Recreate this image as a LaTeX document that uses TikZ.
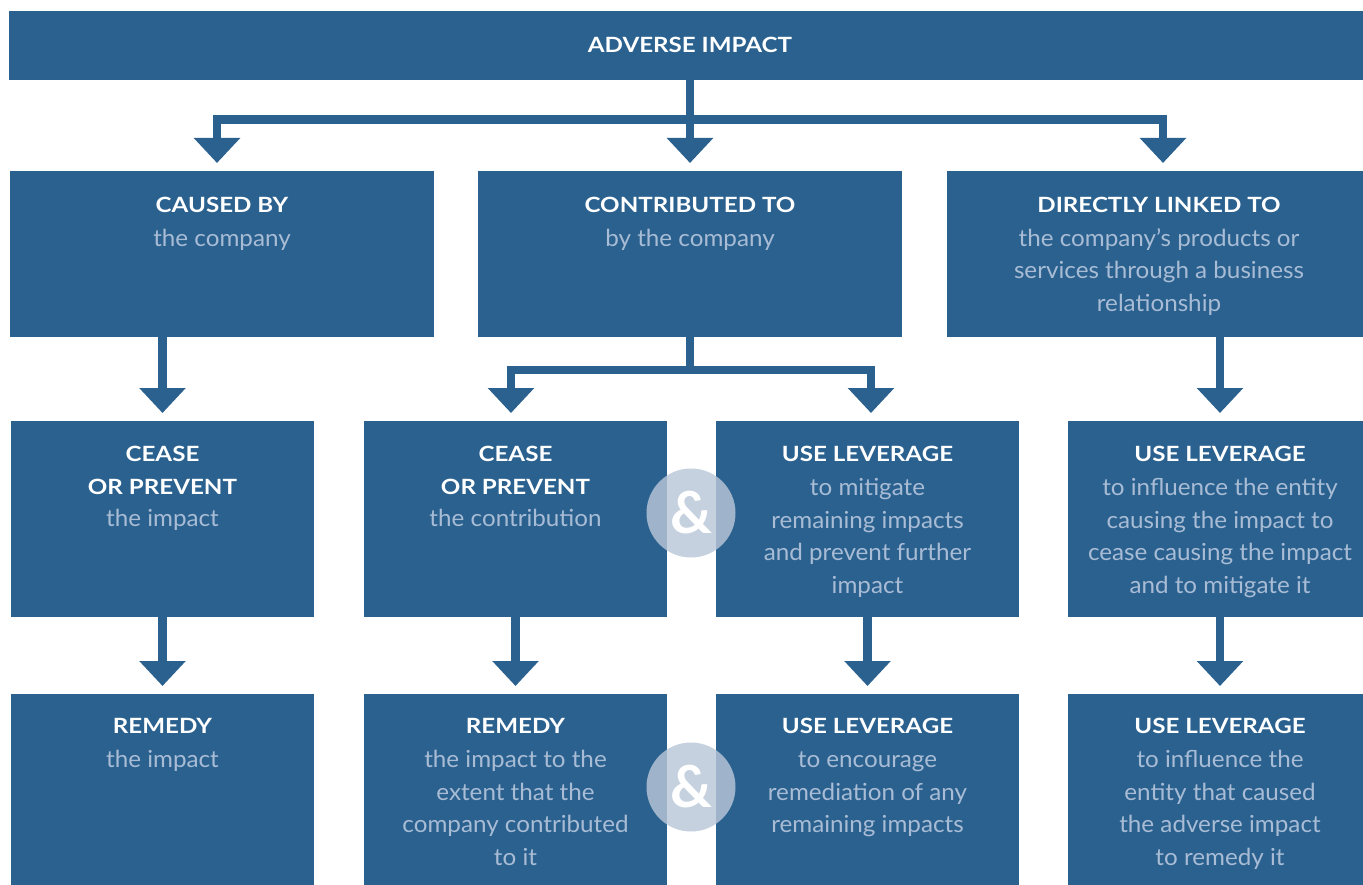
\documentclass[tikz,border=0pt]{standalone}
\usepackage{fontspec}
\setmainfont{Lato}
\newfontfamily\hdfont[FakeStretch=1.15]{Lato}
\newfontfamily\bodyfont[FakeStretch=1.03]{Lato}
\usetikzlibrary{arrows.meta}
\definecolor{boxblue}{RGB}{43,97,143}
\definecolor{subtxt}{RGB}{168,188,213}
\definecolor{ampc}{RGB}{185,199,217}
\newcommand\myhd[1]{{\color{white}\hdfont\bfseries\fontsize{21}{32.5}\selectfont #1}}
\newcommand\mystrut{\rule{0pt}{22pt}}
\begin{document}
\begin{tikzpicture}[x=1pt,y=-1pt,
  panel/.style={fill=boxblue, draw=none, inner sep=0pt, outer sep=0pt, anchor=north west},
  txt/.style={anchor=north, inner sep=0pt, align=center, text=subtxt, font=\bodyfont\fontsize{23.5}{32.5}\selectfont},
  conn/.style={draw=boxblue, line width=8.5pt, line join=miter},
  tip/.style={-{Triangle[width=45pt,length=25pt]}, shorten >=8pt},
  tips/.style={{Triangle[width=45pt,length=25pt]}-{Triangle[width=45pt,length=25pt]}, shorten >=8pt, shorten <=8pt},
  amp/.style={circle, fill=ampc, fill opacity=0.82, text opacity=1, minimum size=89pt, inner sep=0pt, text=white, font=\fontsize{58}{58}\selectfont\bfseries}
]
\useasboundingbox (0,0) rectangle (1363,885);
\clip (0,0) rectangle (1363,885);
\fill[white] (0,0) rectangle (1363,885);

% boxes
\node[panel, minimum width=1362pt, minimum height=69pt] (top) at (9,11) {};
\node[panel, minimum width=424pt, minimum height=166pt] (A) at (10,171) {};
\node[panel, minimum width=424pt, minimum height=166pt] (B) at (478,171) {};
\node[panel, minimum width=424pt, minimum height=166pt] (C) at (947,171) {};

\node[panel, minimum width=303pt, minimum height=196pt] (r3a) at (11,421) {};
\node[panel, minimum width=303pt, minimum height=196pt] (r3b) at (364,421) {};
\node[panel, minimum width=303pt, minimum height=196pt] (r3c) at (716,421) {};
\node[panel, minimum width=304pt, minimum height=196pt] (r3d) at (1068,421) {};

\node[panel, minimum width=303pt, minimum height=200pt] (r4a) at (11,694) {};
\node[panel, minimum width=303pt, minimum height=200pt] (r4b) at (364,694) {};
\node[panel, minimum width=303pt, minimum height=200pt] (r4c) at (716,694) {};
\node[panel, minimum width=304pt, minimum height=200pt] (r4d) at (1068,694) {};

% texts
\node[anchor=base, inner sep=0pt] (ttop) at (690,53) {\myhd{ADVERSE IMPACT}};

\node[txt] (tA) at ([yshift=-19pt]A.north) {\mystrut\myhd{CAUSED BY}\\[1.5pt]the company};
\node[txt] (tB) at ([yshift=-19pt]B.north) {\mystrut\myhd{CONTRIBUTED TO}\\[1.5pt]by the company};
\node[txt] (tC) at ([yshift=-19pt]C.north) {\mystrut\myhd{DIRECTLY LINKED TO}\\[1.5pt]the company’s products or\\services through a business\\relationship};

\node[txt] (t3a) at ([yshift=-18.5pt]r3a.north) {\mystrut\myhd{CEASE}\\\myhd{OR PREVENT}\\the impact};
\node[txt] (t3b) at ([yshift=-18.5pt]r3b.north) {\mystrut\myhd{CEASE}\\\myhd{OR PREVENT}\\the contribution};
\node[txt] (t3c) at ([yshift=-18.5pt]r3c.north) {\mystrut\myhd{USE LEVERAGE}\\[1.5pt]to mitigate\\remaining impacts\\and prevent further\\impact};
\node[txt] (t3d) at ([yshift=-18.5pt]r3d.north) {\mystrut\myhd{USE LEVERAGE}\\[1.5pt]to influence the entity\\causing the impact to\\cease causing the impact\\and to mitigate it};

\node[txt] (t4a) at ([yshift=-17.5pt]r4a.north) {\mystrut\myhd{REMEDY}\\[1.5pt]the impact};
\node[txt] (t4b) at ([yshift=-17.5pt]r4b.north) {\mystrut\myhd{REMEDY}\\[1.5pt]the impact to the\\extent that the\\company contributed\\to it};
\node[txt] (t4c) at ([yshift=-17.5pt]r4c.north) {\mystrut\myhd{USE LEVERAGE}\\[1.5pt]to encourage\\remediation of any\\remaining impacts};
\node[txt] (t4d) at ([yshift=-17.5pt]r4d.north) {\mystrut\myhd{USE LEVERAGE}\\[1.5pt]to influence the\\entity that caused\\the adverse impact\\to remedy it};

% connectors: top level
\coordinate (hL) at (217,119.5);
\coordinate (hR) at (1163,119.5);
\draw[conn, tips] (hL |- A.north) -- (hL) -- (hR) -- (hR |- C.north);
\draw[conn, tip] (top.south) -- (top.south |- B.north);

% row 2 -> row 3
\draw[conn, tip] (A.south -| r3a.north) -- (r3a.north);
\coordinate (bL) at (511,370);
\coordinate (bR) at (871,370);
\draw[conn] (B.south) -- (B.south |- bL);
\draw[conn, tips] (bL |- r3b.north) -- (bL) -- (bR) -- (bR |- r3c.north);
\draw[conn, tip] (C.south -| r3d.north) -- (r3d.north);

% row 3 -> row 4
\draw[conn, tip] (r3a.south) -- (r4a.north);
\draw[conn, tip] (r3b.south) -- (r4b.north);
\draw[conn, tip] (r3c.south) -- (r4c.north);
\draw[conn, tip] (r3d.south) -- (r4d.north);

% ampersands
\node[amp] (amp1) at (691,513) {\&};
\node[amp] (amp2) at (691,787) {\&};
\end{tikzpicture}
\end{document}
